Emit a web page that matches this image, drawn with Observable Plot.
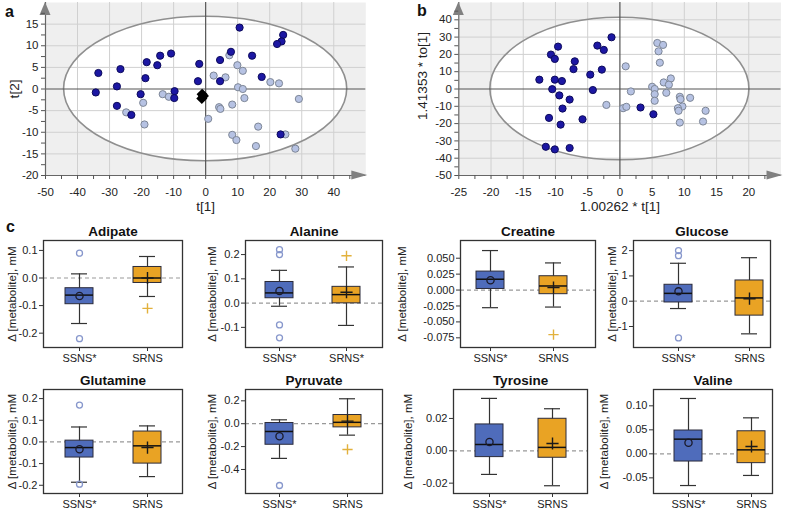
<!DOCTYPE html>
<html><head><meta charset="utf-8">
<script src="https://cdn.jsdelivr.net/npm/d3@7"></script>
<script src="https://cdn.jsdelivr.net/npm/@observablehq/plot@0.6"></script>
<style>
body{margin:0;background:#fff;}
#root{position:relative;width:787px;height:516px;overflow:hidden;font-family:"Liberation Sans",Arial,sans-serif;}
.plbl{position:absolute;font-weight:bold;font-size:16px;color:#111;line-height:1;}
</style></head><body><div id="root"></div>
<script>
// ---------- Panel a: scores t[1] vs t[2] ----------
const aLightT1 = [7.4, 9.9, 11.6, 2.5, 6.2, 20.2, 22.9, 10.1, 11.6, 12.1, 29.1, -13.4, -11.5, -19.5, -24.8, -19.1, 4.2, 4.6, 8.3, 0.8, 16.4, 8.3, 9.6, 15.7, 24.9, 28.0];
const aLightT2 = [7.8, 5.5, 4.2, 3.1, 2.7, 1.6, 1.3, 0.4, 0.0, -2.1, -2.3, -1.2, -1.8, -3.2, -5.4, -8.2, -4.2, -4.6, -3.6, -6.9, -8.7, -10.6, -11.8, -13.2, -10.5, -13.8];
const aDarkT1 = [10.6, 24.2, 23.7, 22.3, 7.9, 14.5, 4.5, -10.8, -14.2, -15.1, -18.4, -2.0, -26.6, -33.5, -18.8, -2.4, 4.5, 17.5, -27.7, -34.3, -20.3, -9.7, -9.8, -27.7, -23.2, 23.4];
const aDarkT2 = [14.2, 12.5, 11.0, 10.4, 8.6, 7.7, 6.7, 8.2, 7.7, 5.5, 6.2, 5.8, 4.6, 3.7, 2.5, 1.8, 1.8, 2.8, 0.6, -0.8, -1.2, -0.5, -2.1, -3.9, -6.0, -10.5];
const aCentT1 = [-1.1, -1.2, -0.7];
const aCentT2 = [-1.2, -2.2, -1.6];
const aEllipse = [44.2, 16.7];
const aXDomain = [-50, 50], aYDomain = [-20, 20];
const aXTicks = [-50, -40, -30, -20, -10, 0, 10, 20, 30, 40];
const aXMinor = [-45, -35, -25, -15, -5, 5, 15, 25, 35, 45];
const aYTicks = [-20, -15, -10, -5, 0, 5, 10, 15];
const aYMinor = [-17.5, -12.5, -7.5, -2.5, 2.5, 7.5, 12.5, 17.5];

// ---------- Panel b: OPLS predictive vs orthogonal ----------
const bLightX = [5.8, 6.7, 6.0, 6.2, 0.9, 7.9, 6.8, 7.6, 7.2, 5.0, 5.4, 5.4, 5.4, 1.7, -2.1, 0.5, 1.0, 9.3, 9.4, 10.9, 9.7, 9.0, 9.1, 9.3, 13.3, 12.9];
const bLightY = [26.6, 25.5, 21.8, 15.2, 13.1, 6.1, 3.8, 2.5, -2.2, 1.3, 0.0, -3.0, -6.8, -1.4, -9.2, -11.1, -10.3, -4.5, -5.9, -5.1, -10.1, -11.1, -12.6, -19.4, -12.6, -18.8];
const bDarkX = [-1.3, -3.5, -2.5, -9.6, -10.7, -10.1, -7.0, -7.2, -2.8, -4.6, -12.5, -10.1, -9.0, -10.5, -4.2, -9.4, -7.8, -8.9, 3.2, 5.2, -11.0, -5.8, -9.2, -11.5, -10.1, -7.8];
const bDarkY = [29.9, 25.1, 22.6, 24.5, 19.9, 17.4, 16.0, 11.5, 11.2, 8.3, 5.4, 5.4, 4.6, -0.1, -0.6, -3.7, -6.1, -11.3, -10.7, -14.6, -16.7, -17.5, -20.6, -33.4, -34.9, -34.1];
const bEllipse = [20.1, 41.2];
const bXDomain = [-25, 25], bYDomain = [-50, 50];
const bXTicks = [-25, -20, -15, -10, -5, 0, 5, 10, 15, 20];
const bXMinor = [-22.5, -17.5, -12.5, -7.5, -2.5, 2.5, 7.5, 12.5, 17.5, 22.5];
const bYTicks = [-50, -40, -30, -20, -10, 0, 10, 20, 30, 40];
const bYMinor = [-45, -35, -25, -15, -5, 5, 15, 25, 35, 45];

// ---------- Panel c: box plots ----------
const metabolites = ["Adipate", "Alanine", "Creatine", "Glucose", "Glutamine", "Pyruvate", "Tyrosine", "Valine"];
const groupLabels = [["SSNS*", "SRNS"], ["SSNS*", "SRNS*"], ["SSNS*", "SRNS"], ["SSNS*", "SRNS"], ["SSNS*", "SRNS"], ["SSNS*", "SRNS"], ["SSNS*", "SRNS"], ["SSNS*", "SRNS"]];
const whiskerLow = [[-0.165, -0.067], [-0.013, -0.092], [-0.0277, -0.0267], [-0.29, -1.29], [-0.186, -0.160], [-0.303, -0.100], [-0.0146, -0.0216], [-0.066, -0.045]];
const q1 = [[-0.095, -0.018], [0.020, -0.001], [0.0017, -0.0065], [-0.05, -0.57], [-0.072, -0.100], [-0.184, -0.032], [-0.0039, -0.0043], [-0.016, -0.0194]];
const medians = [[-0.062, 0.0], [0.042, 0.035], [0.017, 0.0064], [0.31, 0.13], [-0.026, -0.018], [-0.068, 0.012], [0.0039, 0.0021], [0.0306, 0.0083]];
const q3 = [[-0.037, 0.040], [0.087, 0.067], [0.029, 0.0217], [0.65, 0.82], [0.006, 0.048], [0.006, 0.076], [0.0163, 0.0198], [0.0486, 0.047]];
const whiskerHigh = [[0.015, 0.078], [0.135, 0.149], [0.062, 0.0426], [1.50, 1.72], [0.069, 0.074], [0.034, 0.218], [0.0324, 0.026], [0.1153, 0.075]];
const means = [[-0.065, 0.0], [0.050, 0.045], [0.0153, 0.0038], [0.39, 0.10], [-0.034, -0.026], [-0.110, 0.023], [0.0054, 0.0045], [0.023, 0.0153]];
const outliersSSNS = [[0.09, -0.22], [0.22, 0.20, -0.09, -0.143], [], [2.0, 1.8, -1.45], [0.17, -0.195], [-0.54], [], []];
const outliersSRNS = [[-0.11], [0.195], [-0.07], [], [], [-0.225], [], []];
const yDomains = [[-0.252, 0.136], [-0.183, 0.258], [-0.0902, 0.0778], [-1.83, 2.4], [-0.238, 0.242], [-0.61, 0.299], [-0.0264, 0.0379], [-0.0826, 0.134]];
const yTickValues = [[-0.2, -0.1, 0, 0.1], [-0.1, 0, 0.1, 0.2], [-0.075, -0.05, -0.025, 0, 0.025, 0.05], [-1, 0, 1, 2], [-0.2, -0.1, 0, 0.1, 0.2], [-0.4, -0.2, 0, 0.2], [-0.02, 0, 0.02], [-0.05, 0, 0.05, 0.10]];
const yTickDecimals = [1, 1, 3, 0, 1, 1, 2, 2];
const yLabelText = "Δ [metabolite], mM";

// ---------- layout (page pixels) ----------
const boxFrames = [[43, 182, 240, 347], [245, 382, 240, 347], [460, 595, 240, 347], [633, 770, 240, 347],
                   [43, 182, 389, 493], [245, 382, 389, 493], [453, 587, 389, 493], [653, 772, 389, 493]];
const boxCenters = [[79, 147], [279, 346], [489, 553], [677, 749], [79, 147], [279, 347], [488, 552], [688, 751]];
const BOXW = 28;
const yLabelX = [12, 212, 402, 612, 12, 212, 408, 604];

const FONT = "'Liberation Sans', Arial, sans-serif";
const root = document.getElementById("root");
function place(svg, left, top) {
  svg.style.position = "absolute";
  svg.style.left = left + "px";
  svg.style.top = top + "px";
  root.appendChild(svg);
}
function label(text, left, top) {
  const d = document.createElement("div");
  d.className = "plbl"; d.textContent = text;
  d.style.left = left + "px"; d.style.top = top + "px";
  root.appendChild(d);
}
const SVGNS = "http://www.w3.org/2000/svg";
function ellipseMark(rx, ry, fill, stroke, sw) {
  return (index, scales) => {
    const {x, y} = scales;
    const el = document.createElementNS(SVGNS, "ellipse");
    el.setAttribute("cx", x(0)); el.setAttribute("cy", y(0));
    el.setAttribute("rx", Math.abs(x(rx) - x(0)));
    el.setAttribute("ry", Math.abs(y(ry) - y(0)));
    el.setAttribute("fill", fill); el.setAttribute("stroke", stroke);
    el.setAttribute("stroke-width", sw);
    return el;
  };
}
function axisArrows(xd, yd) {
  return (index, scales) => {
    const {x, y} = scales;
    const g = document.createElementNS(SVGNS, "g");
    const x0 = x(xd[0]), y1 = y(yd[1]), x1 = x(xd[1]), y0 = y(yd[0]);
    const up = document.createElementNS(SVGNS, "polygon");
    up.setAttribute("points", `${x0},${y1} ${x0 - 5.5},${y1 + 13} ${x0 + 5.5},${y1 + 13}`);
    up.setAttribute("fill", "#808080");
    const rt = document.createElementNS(SVGNS, "polygon");
    rt.setAttribute("points", `${x1 + 2},${y0} ${x1 - 14},${y0 - 4.5} ${x1 - 14},${y0 + 4.5}`);
    rt.setAttribute("fill", "#808080");
    g.appendChild(up); g.appendChild(rt);
    return g;
  };
}

function scatter(cfg) {
  const light = cfg.lx.map((v, i) => ({x: v, y: cfg.ly[i]}));
  const dark = cfg.dx.map((v, i) => ({x: v, y: cfg.dy[i]}));
  const cent = (cfg.cx || []).map((v, i) => ({x: v, y: cfg.cy[i]}));
  return Plot.plot({
    width: cfg.width, height: 214,
    marginLeft: cfg.ml, marginRight: cfg.mr, marginTop: 2, marginBottom: 39,
    x: {domain: cfg.xd}, y: {domain: cfg.yd},
    style: {background: "transparent", fontFamily: FONT, fontSize: "11.5px", color: "#222", overflow: "visible"},
    marks: [
      Plot.frame({fill: "#efefef", stroke: "none"}),
      ellipseMark(cfg.ell[0], cfg.ell[1], "white", "none", 0),
      Plot.gridX(cfg.xt.filter(d => d !== 0 && d !== cfg.xd[0]), {stroke: "#d0d0d0", strokeOpacity: 1}),
      Plot.gridY(cfg.yt.filter(d => d !== 0 && d !== cfg.yd[0]), {stroke: "#d0d0d0", strokeOpacity: 1}),
      ellipseMark(cfg.ell[0], cfg.ell[1], "none", "#8f8f8f", 1.6),
      Plot.ruleX([0], {stroke: "#555", strokeWidth: 1.2}),
      Plot.ruleY([0], {stroke: "#555", strokeWidth: 1.2}),
      Plot.ruleX([cfg.xd[0]], {stroke: "#666", strokeWidth: 1.2}),
      Plot.ruleY([cfg.yd[0]], {stroke: "#666", strokeWidth: 1.2}),
      axisArrows(cfg.xd, cfg.yd),
      Plot.axisX(cfg.xt, {tickSize: 4, tickPadding: 8, tickFormat: d => String(d), label: null, stroke: "#555"}),
      Plot.axisX(cfg.xm, {tickSize: 4, tickFormat: () => "", label: null, stroke: "#555"}),
      Plot.axisY(cfg.yt, {tickSize: 4, tickPadding: 3, tickFormat: d => String(d), label: null, stroke: "#555"}),
      Plot.axisY(cfg.ym, {tickSize: 4, tickFormat: () => "", label: null, stroke: "#555"}),
      Plot.dot(light, {x: "x", y: "y", r: 3.6, fill: "#b6c2e3", stroke: "#7d8696", strokeWidth: 1}),
      Plot.dot(dark, {x: "x", y: "y", r: 3.6, fill: "#1c17a3", stroke: "#0d0b5c", strokeWidth: 1}),
      Plot.dot(cent, {x: "x", y: "y", r: 5, symbol: "diamond2", fill: "#000"}),
      Plot.text([cfg.xlabel], {frameAnchor: "bottom", lineAnchor: "middle", textAnchor: "middle", dy: 31, fontSize: 13.5, fill: "#222"}),
      Plot.text([cfg.ylabel], {frameAnchor: "left", lineAnchor: "middle", textAnchor: "middle", dx: cfg.ylabDx, dy: cfg.ylabDy || 0, rotate: -90, fontSize: 13.5, fill: "#222"})
    ]
  });
}

place(scatter({width: 400, ml: 45, mr: 34.7, xd: aXDomain, yd: aYDomain, ell: aEllipse,
  xt: aXTicks, xm: aXMinor, yt: aYTicks, ym: aYMinor,
  lx: aLightT1, ly: aLightT2, dx: aDarkT1, dy: aDarkT2, cx: aCentT1, cy: aCentT2,
  xlabel: "t[1]", ylabel: "t[2]", ylabDx: -31}), 0, 0);

place(scatter({width: 387, ml: 58.3, mr: 6.5, xd: bXDomain, yd: bYDomain, ell: bEllipse,
  xt: bXTicks, xm: bXMinor, yt: bYTicks, ym: bYMinor,
  lx: bLightX, ly: bLightY, dx: bDarkX, dy: bDarkY,
  xlabel: "1.00262 * t[1]", ylabel: "1.41353 * to[1]", ylabDx: -36, ylabDy: -13}), 400, 0);

// box plots
const ML = 70, MT = 22, MR = 6, MB = 26;
metabolites.forEach((name, i) => {
  const [L, R, T, B] = boxFrames[i];
  const [c1, c2] = boxCenters[i];
  const step = c2 - c1;
  const pInner = 1 - BOXW / step, pOuter = 0.3;
  // band-scale range (svg coordinates) so that the band centres land at c1 and c2
  const r0 = (c1 - L + ML) - pOuter * step - BOXW / 2;
  const r1 = r0 + step * (2 - pInner + 2 * pOuter);
  const labs = groupLabels[i];
  const rows = labs.map((g, j) => ({
    g, lo: whiskerLow[i][j], q1: q1[i][j], med: medians[i][j], q3: q3[i][j], hi: whiskerHigh[i][j], mean: means[i][j]
  }));
  const outA = outliersSSNS[i].map(v => ({g: labs[0], v}));
  const outB = outliersSRNS[i].map(v => ({g: labs[1], v}));
  const dec = yTickDecimals[i];
  const svg = Plot.plot({
    width: (R - L) + ML + MR, height: (B - T) + MT + MB,
    marginLeft: ML, marginRight: MR, marginTop: MT, marginBottom: MB,
    x: {domain: labs, paddingInner: pInner, paddingOuter: pOuter, range: [r0, r1]},
    y: {domain: yDomains[i]},
    style: {background: "transparent", fontFamily: FONT, fontSize: "11px", color: "#222", overflow: "visible"},
    marks: [
      Plot.ruleY([0], {stroke: "#999", strokeDasharray: "4,3", strokeWidth: 1.2}),
      Plot.ruleX(rows, {x: "g", y1: "lo", y2: "hi", stroke: "#333", strokeWidth: 1.2}),
      Plot.tickY(rows, {x: "g", y: "lo", stroke: "#333", strokeWidth: 1.2, insetLeft: 6, insetRight: 6}),
      Plot.tickY(rows, {x: "g", y: "hi", stroke: "#333", strokeWidth: 1.2, insetLeft: 6, insetRight: 6}),
      Plot.barY(rows, {x: "g", y1: "q1", y2: "q3", fill: (d, j) => j === 0 ? "#4f6cbb" : "#e9a324", stroke: "#2b2b3a", strokeWidth: 1}),
      Plot.tickY(rows, {x: "g", y: "med", stroke: "#111", strokeWidth: 1.5}),
      Plot.dot(rows.slice(0, 1), {x: "g", y: "mean", r: 3.6, symbol: "circle", stroke: "#1a1a2a", strokeWidth: 1.3, fill: "none"}),
      Plot.dot(rows.slice(1), {x: "g", y: "mean", r: 4, symbol: "plus", stroke: "#1a1a1a", strokeWidth: 1.4}),
      Plot.dot(outA, {x: "g", y: "v", r: 3, symbol: "circle", stroke: "#8797cc", strokeWidth: 1.3, fill: "none"}),
      Plot.dot(outB, {x: "g", y: "v", r: 3.4, symbol: "plus", stroke: "#e2b13c", strokeWidth: 1.4}),
      Plot.frame({stroke: "#333", strokeWidth: 1.3}),
      Plot.axisY(yTickValues[i], {tickSize: 4, tickPadding: 2, tickFormat: d => d.toFixed(dec), label: null, stroke: "#333"}),
      Plot.axisX({tickSize: 4, tickPadding: 3, label: null, stroke: "#333"}),
      Plot.text([name], {frameAnchor: "top", lineAnchor: "middle", textAnchor: "middle", dy: -9, fontWeight: "bold", fontSize: 13.5, fill: "#111"}),
      Plot.text([yLabelText], {frameAnchor: "left", lineAnchor: "middle", textAnchor: "middle", dx: yLabelX[i] - L, rotate: -90, fontSize: 11.5, fill: "#222"})
    ]
  });
  place(svg, L - ML, T - MT);
});

label("a", 5, 4);
label("b", 417, 3);
label("c", 6, 219);
</script>
</body></html>
